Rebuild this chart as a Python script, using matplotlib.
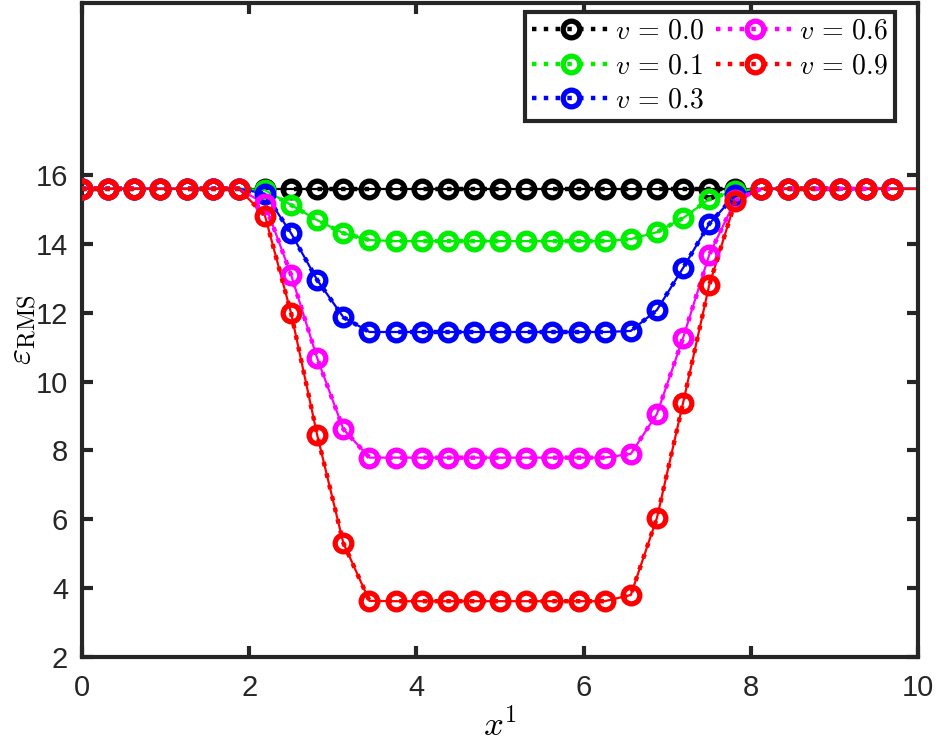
import numpy as np
import matplotlib.pyplot as plt

plt.rcParams['font.family'] = ['Liberation Sans', 'DejaVu Sans']
plt.rcParams['mathtext.fontset'] = 'cm'

# grid points (periodic, 32 cells on [0, 10))
x = np.arange(32) * 10 / 32
base = 15.6

labels = [r"$v\,=\,0.0$", r"$v\,=\,0.1$", r"$v\,=\,0.3$", r"$v\,=\,0.6$", r"$v\,=\,0.9$"]
colors = ["black", "#00ee00", "blue", "magenta", "red"]

# values, indices 0..31
eps_00 = [15.6] * 32
eps_01 = [15.6] * 7 + [15.56, 15.13, 14.69, 14.31, 14.11] + [14.08] * 9 + \
         [14.14, 14.34, 14.75, 15.30, 15.55] + [15.6] * 6
eps_03 = [15.6] * 7 + [15.46, 14.31, 12.95, 11.87, 11.44] + [11.44] * 9 + \
         [11.47, 12.08, 13.30, 14.58, 15.42] + [15.6] * 6
eps_06 = [15.6] * 7 + [15.16, 13.10, 10.68, 8.62, 7.79] + [7.79] * 9 + \
         [7.90, 9.06, 11.27, 13.68, 15.27] + [15.6] * 6
eps_09 = [15.6] * 7 + [14.82, 11.99, 8.45, 5.31, 3.63] + [3.62] * 9 + \
         [3.80, 6.04, 9.38, 12.80, 15.24] + [15.6] * 6

series = [eps_00, eps_01, eps_03, eps_06, eps_09]

fig = plt.figure(figsize=(9.37, 7.42), dpi=100)
ax = fig.add_axes([0.0875, 0.1146, 0.8925, 0.8815])

for y, c, lab in zip(series, colors, labels):
    y = np.array(y)
    # thin solid reference curve (periodic, closes at x = 10)
    ax.plot(np.append(x, 10), np.append(y, y[0]), '-', color=c, lw=1.6, zorder=2)
    ax.plot(x, y, ':', color=c, lw=3.2, marker='o', ms=12, mew=3.8,
            mfc='none', mec=c, label=lab, zorder=3)

ax.set_xlim(0, 10)
ax.set_ylim(2, 21)
ax.set_xticks([0, 2, 4, 6, 8, 10])
ax.set_yticks([2, 4, 6, 8, 10, 12, 14, 16])
ax.tick_params(direction='in', length=8, width=3, labelsize=21, color='#262626',
               labelcolor='#262626', top=True, right=True)
ax.tick_params(axis='x', pad=12)
ax.tick_params(axis='y', pad=10)
for s in ax.spines.values():
    s.set_linewidth(3)
    s.set_color('#262626')

ax.set_xlabel("$x^1$", fontsize=25, labelpad=5)
ax.set_ylabel(r"$\varepsilon_{\rm RMS}$", fontsize=25, labelpad=-2)

leg = ax.legend(ncol=2, loc='upper right', fontsize=20, handlelength=2.8,
                handletextpad=0.2, columnspacing=0.4, labelspacing=0.3,
                borderpad=0.25, borderaxespad=0, fancybox=False, framealpha=1,
                bbox_to_anchor=(0.9725, 0.986))
leg.get_frame().set_edgecolor('#262626')
leg.get_frame().set_linewidth(3)

fig.savefig("out.png", dpi=100)
